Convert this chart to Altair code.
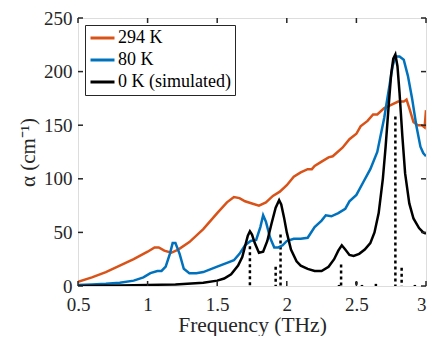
import altair as alt
import pandas as pd

# 294 K measured
f294 = [0.5, 0.6, 0.7, 0.8, 0.9, 1.0, 1.05, 1.08, 1.12, 1.17, 1.22, 1.3, 1.4, 1.5, 1.57, 1.62, 1.66, 1.7, 1.75, 1.8, 1.85, 1.9, 1.95, 2.0, 2.05, 2.1, 2.15, 2.18, 2.2, 2.25, 2.3, 2.33, 2.4, 2.45, 2.5, 2.53, 2.58, 2.62, 2.65, 2.7, 2.75, 2.8, 2.84, 2.86, 2.88, 2.91, 2.94, 2.97, 2.99, 3.0]
a294 = [4, 8, 13, 19, 25, 32, 36, 36, 33, 31, 34, 41, 53, 68, 78, 83, 82, 79, 77, 75, 78, 84, 88, 94, 102, 106, 109, 109, 112, 116, 120, 121, 129, 137, 142, 149, 154, 160, 160, 166, 169, 172, 172, 174, 166, 153, 150, 150, 148, 164]

# 80 K measured
f80 = [0.5, 0.6, 0.7, 0.8, 0.9, 0.97, 1.02, 1.07, 1.1, 1.13, 1.16, 1.18, 1.2, 1.23, 1.26, 1.3, 1.35, 1.4, 1.5, 1.58, 1.62, 1.66, 1.7, 1.74, 1.78, 1.81, 1.83, 1.85, 1.88, 1.91, 1.94, 1.97, 2.0, 2.05, 2.1, 2.15, 2.2, 2.25, 2.28, 2.32, 2.37, 2.42, 2.45, 2.5, 2.55, 2.6, 2.65, 2.7, 2.73, 2.76, 2.78, 2.81, 2.84, 2.87, 2.9, 2.93, 2.96, 2.98, 3.0]
a80 = [1, 1.5, 2, 3, 5, 8, 12, 14, 14, 18, 30, 40, 40, 30, 16, 12, 12, 13, 18, 22, 24, 30, 38, 42, 43, 55, 66, 60, 45, 36, 36, 38, 42, 44, 44, 45, 55, 61, 66, 65, 68, 72, 79, 85, 97, 109, 125, 157, 181, 205, 214, 214, 211, 196, 175, 150, 130, 124, 121]

# 0 K simulated
f0 = [0.5, 0.8, 1.0, 1.2, 1.4, 1.5, 1.55, 1.6, 1.65, 1.68, 1.7, 1.72, 1.735, 1.75, 1.77, 1.8, 1.83, 1.86, 1.89, 1.92, 1.945, 1.96, 1.98, 2.0, 2.03, 2.07, 2.1, 2.15, 2.2, 2.25, 2.3, 2.34, 2.37, 2.395, 2.42, 2.45, 2.48, 2.52, 2.56, 2.6, 2.63, 2.66, 2.69, 2.71, 2.73, 2.75, 2.765, 2.78, 2.795, 2.81, 2.83, 2.85, 2.88, 2.91, 2.95, 2.98, 3.0]
a0 = [0, 0.5, 1, 1.5, 3, 5, 7, 11, 19, 27, 37, 47, 51, 48, 40, 31, 32, 42, 58, 73, 80, 76, 64, 50, 34, 23, 19, 16, 14, 14, 18, 25, 33, 38, 34, 29, 28, 30, 34, 40, 50, 68, 100, 130, 165, 198, 212, 216, 205, 180, 140, 105, 77, 63, 54, 50, 49]

# simulated mode strengths (dotted sticks)
stick_f = [1.735, 1.92, 1.955, 2.375, 2.39, 2.5, 2.54, 2.64, 2.78, 2.825, 2.92]
stick_a = [37, 18, 48, 1, 20, 4, 1, 2, 158, 17, 1]

series = ["294 K", "80 K", "0 K (simulated)"]
colors = ["#D95319", "#0072BD", "#000000"]
x_ticks = [0.5, 1, 1.5, 2, 2.5, 3]
y_ticks = [0, 50, 100, 150, 200, 250]

rows = []
for name, fs, avals in zip(series, [f294, f80, f0], [a294, a80, a0]):
    for i, (f, a) in enumerate(zip(fs, avals)):
        rows.append({"f": f, "a": a, "series": name, "order": i})
df = pd.DataFrame(rows)
sticks = pd.DataFrame({"f": stick_f, "a": stick_a})
xt = pd.DataFrame({"v": x_ticks})
yt = pd.DataFrame({"v": y_ticks})

W, H = 348, 268
FONT = "Liberation Serif"

xs = alt.Scale(domain=[0.5, 3], nice=False, zero=False)
ys = alt.Scale(domain=[0, 250], nice=False)

xaxis = alt.Axis(values=x_ticks, title="Frequency (THz)", ticks=False, domain=False, grid=False,
                 labelFont=FONT, labelFontSize=19, labelColor="#262626", labelPadding=9,
                 labelAlign={"condition": {"test": "datum.value == 3", "value": "right"}, "value": "center"},
                 titleFont=FONT, titleFontSize=21.5, titleFontWeight="normal", titleColor="#262626",
                 titlePadding=0, labelFlush=False, labelOverlap=False,
                 labelExpr="datum.value == 0.5 ? '0.5' : format(datum.value, '')")
yaxis = alt.Axis(values=y_ticks, title="α (cm⁻¹)", ticks=False, domain=False, grid=False,
                 labelFont=FONT, labelFontSize=19, labelColor="#262626", labelPadding=6,
                 titleFont=FONT, titleFontSize=21, titleFontWeight="normal", titleColor="#262626",
                 titlePadding=5, labelFlush=False, labelOverlap=False)

lines = alt.Chart(df).mark_line(strokeWidth=2.5, clip=True).encode(
    x=alt.X("f:Q", scale=xs, axis=xaxis),
    y=alt.Y("a:Q", scale=ys, axis=yaxis),
    color=alt.Color("series:N", scale=alt.Scale(domain=series, range=colors),
                    legend=alt.Legend(title=None, orient="none", legendX=7, legendY=7,
                                      symbolType="M-1,0H1", symbolSize=576, symbolStrokeWidth=3,
                                      labelFont=FONT, labelFontSize=18, labelColor="#000000",
                                      fillColor="white", strokeColor="#262626", padding=4,
                                      clipHeight=18, rowPadding=4, labelOffset=2, symbolOffset=0)),
    order="order:Q",
)

stick_layer = alt.Chart(sticks).mark_rule(color="black", strokeWidth=2.5, strokeDash=[3, 3]).encode(
    x=alt.X("f:Q", scale=xs),
    y=alt.Y("a:Q", scale=ys),
    y2=alt.datum(0),
)

tick_style = dict(color="#262626", strokeWidth=1.5)
xb = alt.Chart(xt).mark_rule(**tick_style).encode(x=alt.X("v:Q", scale=xs), y=alt.value(H), y2=alt.value(H - 5))
xtp = alt.Chart(xt).mark_rule(**tick_style).encode(x=alt.X("v:Q", scale=xs), y=alt.value(0), y2=alt.value(5))
yl = alt.Chart(yt).mark_rule(**tick_style).encode(y=alt.Y("v:Q", scale=ys), x=alt.value(0), x2=alt.value(5))
yr = alt.Chart(yt).mark_rule(**tick_style).encode(y=alt.Y("v:Q", scale=ys), x=alt.value(W), x2=alt.value(W - 5))

chart = alt.layer(stick_layer, lines, xb, xtp, yl, yr).properties(
    width=W, height=H,
    autosize=alt.AutoSizeParams(type="none"),
    padding={"left": 70, "top": 10, "right": 2, "bottom": 50},
).configure_view(stroke="#262626", strokeWidth=2.5).configure_legend(strokeWidth=2.5).configure(background="white")

chart.save("out.html", embed_options={"renderer": "svg", "actions": False})
